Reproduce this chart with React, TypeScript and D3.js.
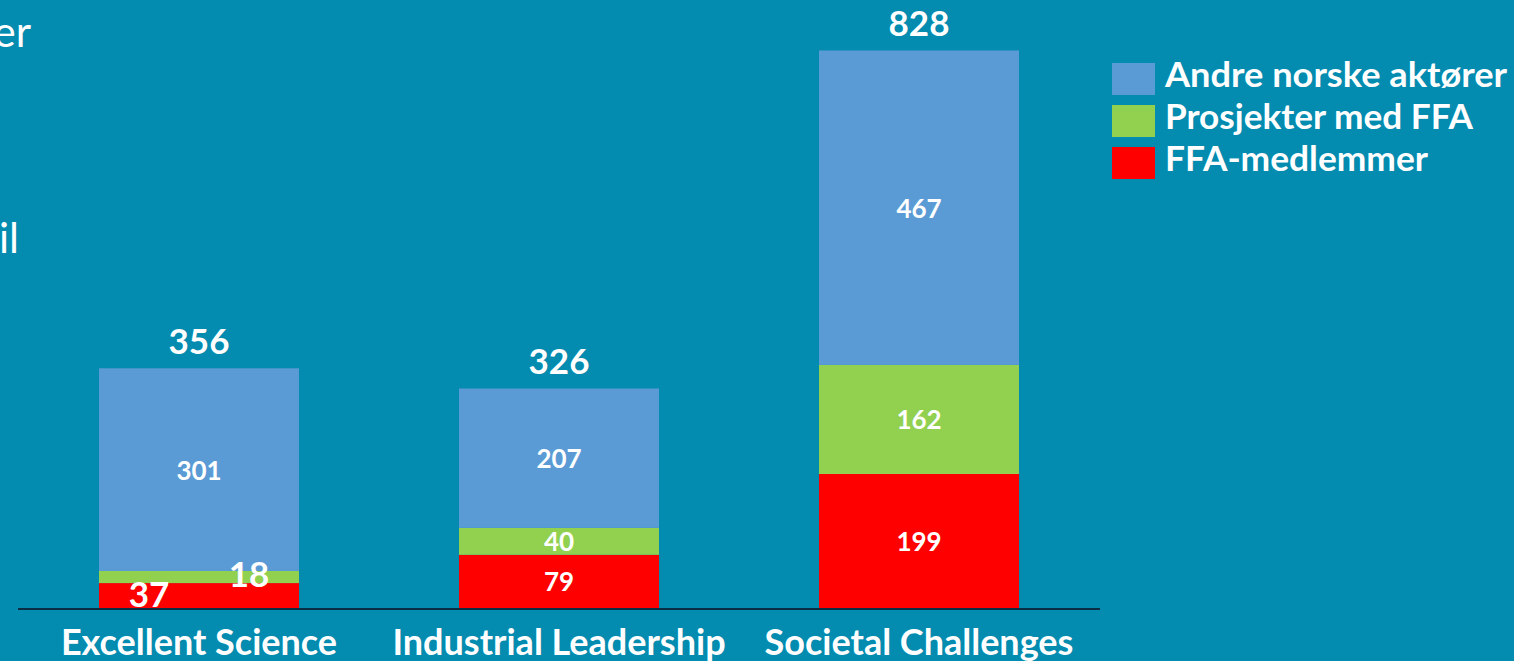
import React from "react";
import * as d3 from "d3";

const categories = ["Excellent Science", "Industrial Leadership", "Societal Challenges"];
const seriesNames = ["FFA-medlemmer", "Prosjekter med FFA", "Andre norske aktører"];
const ffaMembers = [37, 79, 199];
const ffaProjects = [18, 40, 162];
const otherActors = [301, 207, 467];
const totals = [356, 326, 828];
const seriesColors = ["#FF0000", "#92D050", "#5B9BD5"];
const legendOrder = [2, 1, 0];
const legendTextWidths = [263, 308, 342];

const W = 1514;
const H = 661;
const BG = "#038BB0";
const FONT = "Lato, 'Open Sans', sans-serif";

export default function App() {
  const x = d3.scaleBand<string>().domain(categories).range([19, 1099]).paddingInner(0.4444).paddingOuter(0.2222);
  const y = d3.scaleLinear().domain([0, 900]).range([608, 2]);

  const rows = categories.map((c, i) => ({
    cat: c,
    s0: ffaMembers[i],
    s1: ffaProjects[i],
    s2: otherActors[i],
  }));
  const stack = d3.stack<any>().keys(["s0", "s1", "s2"]);
  const layers = stack(rows);
  const bw = x.bandwidth();

  return (
    <svg width={W} height={H} style={{ position: "absolute", left: 0, top: 0 }} fontFamily={FONT}>
      <rect x={0} y={0} width={W} height={H} fill={BG} />
      {/* cut-off slide text at left */}
      <text x={31} y={47} textAnchor="end" fill="#fff" fontSize={42} fontFamily={FONT}>er</text>
      <text x={19} y={253} textAnchor="end" fill="#fff" fontSize={42} fontFamily={FONT}>il</text>

      {layers.map((layer, li) => (
        <g key={li}>
          {layer.map((d, i) => (
            <rect
              key={i}
              x={x(categories[i])!}
              y={y(d[1])}
              width={bw}
              height={y(d[0]) - y(d[1])}
              fill={seriesColors[li]}
            />
          ))}
        </g>
      ))}

      {/* segment labels */}
      {layers.map((layer, li) =>
        layer.map((d, i) => {
          const v = d[1] - d[0];
          const cx = x(categories[i])! + bw / 2;
          const small = i === 0 && li < 2;
          if (small) {
            const lx = li === 0 ? cx - 50 : cx + 50;
            const ly = li === 0 ? y(0) - 1 : y(d[1]) + 16;
            return (
              <text key={li + "-" + i} x={lx} y={ly} textAnchor="middle" fill="#fff" fontWeight={700} fontSize={35}>
                {v}
              </text>
            );
          }
          return (
            <text
              key={li + "-" + i}
              x={cx}
              y={(y(d[0]) + y(d[1])) / 2 + 10}
              textAnchor="middle"
              fill="#fff"
              fontWeight={700}
              fontSize={26}
            >
              {v}
            </text>
          );
        })
      )}

      {/* totals */}
      {categories.map((c, i) => (
        <text key={c} x={x(c)! + bw / 2} y={y(totals[i]) - 14} textAnchor="middle" fill="#fff" fontWeight={700} fontSize={35}>
          {totals[i]}
        </text>
      ))}

      {/* axis */}
      <line x1={18} x2={1100} y1={609} y2={609} stroke="#0A2F45" strokeWidth={2} />
      {categories.map((c) => (
        <text key={c} x={x(c)! + bw / 2} y={655} textAnchor="middle" fill="#fff" fontWeight={700} fontSize={36}>
          {c}
        </text>
      ))}

      {/* legend */}
      {legendOrder.map((si, k) => (
        <g key={si} transform={`translate(1112, ${63 + k * 42})`}>
          <rect x={0} y={0} width={43} height={32} fill={seriesColors[si]} />
          <text
            x={53}
            y={24}
            fill="#fff"
            fontWeight={700}
            fontSize={34}
            textLength={legendTextWidths[si]}
            lengthAdjust="spacingAndGlyphs"
          >
            {seriesNames[si]}
          </text>
        </g>
      ))}
    </svg>
  );
}
